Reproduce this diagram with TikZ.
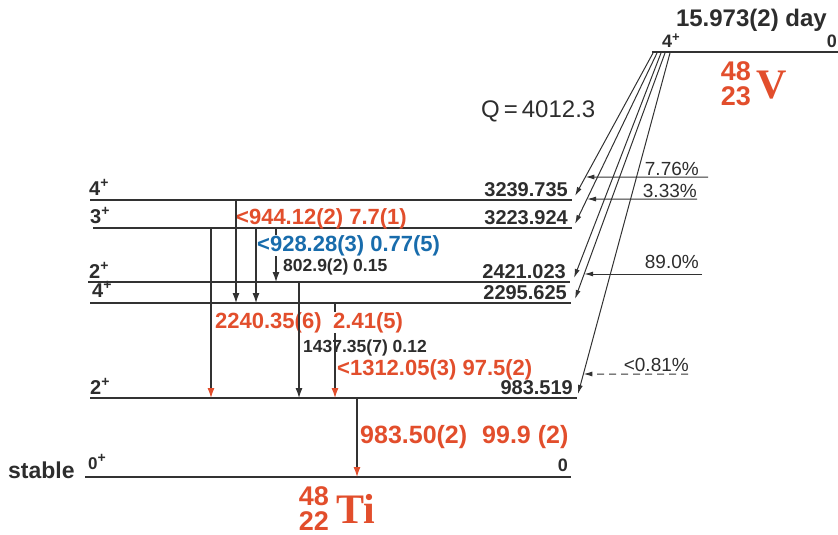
\documentclass[tikz,border=0pt]{standalone}
\usepackage{fontspec}
\setmainfont{Liberation Sans}
\newfontfamily\elemfont{Liberation Serif}
\usepackage{tikz}
\usetikzlibrary{
  arrows.meta,
  calc
}
\definecolor{nucred}{RGB}{226,78,44}
\definecolor{nucblue}{RGB}{24,108,172}
\definecolor{linegray}{RGB}{50,50,50}
\definecolor{txtgray}{RGB}{45,45,45}
\newcommand{\spinp}[1]{#1\raisebox{0.36em}{\fontsize{14}{14}\selectfont +}}

\begin{document}
\begin{tikzpicture}[
    x=1pt, y=-1pt,
    >=Latex,
    lvl/.style={line width=1.7pt, draw=linegray},
    en/.style={font=\bfseries\fontsize{20}{22}\selectfont, text=txtgray,
      anchor=base east, inner sep=0pt},
    spin/.style={font=\bfseries\fontsize{20}{22}\selectfont, text=txtgray,
      anchor=base west, inner sep=0pt},
    gam/.style={line width=1.1pt, draw=linegray,
      -{Latex[length=10pt,width=7pt]}},
    gamred/.style={gam, -{Latex[length=10pt,width=7pt,color=nucred]}},
    feed/.style={line width=1pt, draw=linegray,
      -{Latex[length=9pt,width=5pt]}},
    pct/.style={font=\fontsize{19}{21}\selectfont, text=txtgray,
      anchor=base east, inner sep=0pt},
    glbl/.style={font=\bfseries\fontsize{22}{24}\selectfont, text=nucred,
      anchor=base west, inner sep=0pt},
    gsmall/.style={font=\bfseries\fontsize{17.5}{20}\selectfont, text=txtgray,
      anchor=base west, inner sep=0pt},
    nuc/.style={font=\bfseries\fontsize{27}{29}\selectfont, text=nucred,
      anchor=base east, inner sep=0pt},
    elem/.style={font=\elemfont\bfseries\fontsize{42}{44}\selectfont,
      text=nucred, anchor=base west, inner sep=0pt}
    ]
    \useasboundingbox (0,0) rectangle (838,535);

    % parent level
    \draw[line width=2.6pt, draw=linegray]
    (652,52) coordinate (Pl) -- (838,52) coordinate (Pr);
    \node[font=\bfseries\fontsize{24}{26}\selectfont, text=txtgray,
      anchor=base east, inner sep=0pt] (thalf) at (827,27) {15.973(2) day};
    \node[spin, font=\bfseries\fontsize{18}{20}\selectfont] (Pspin)
    at (662,48) {4\raisebox{0.36em}{\fontsize{13}{13}\selectfont +}};
    \node[en, font=\bfseries\fontsize{18}{20}\selectfont] (Pen)
    at (837,48) {0};
    \node[nuc] (Vmass) at (751,81) {48};
    \node[nuc] (Vz) at (751,106) {23};
    \node[elem] (Vsym) at (756,98) {V};
    \node[font=\fontsize{24}{26}\selectfont, text=txtgray,
      anchor=base west, inner sep=0pt] (Qval) at (481,117) {Q\,=\,4012.3};

    % levels of the daughter
    \foreach \n/\xl/\xr/\y/\e in {
      3239/90/572/200/3239.735,
      3223/93/572/228/3223.924,
      2421/88/570/282/2421.023,
      2295/90/571/303/2295.625,
      983/90/577/398/983.519}
    {
      \draw[lvl] (\xl,\y) coordinate (L\n l) -- (\xr,\y) coordinate (L\n r);
      \node[en] (E\n) at ($(L\n r)+(-4,-4)$) {\e};
    }
    \draw[line width=2.4pt, draw=linegray]
    (85,477) coordinate (L0l) -- (571,477) coordinate (L0r);
    \node[en, font=\bfseries\fontsize{18}{20}\selectfont] (E0)
    at (568,471) {0};

    \node[spin] (S3239) at (89,195) {\spinp{4}};
    \node[spin] (S3223) at (90,223) {\spinp{3}};
    \node[spin] (S2421) at (89,278) {\spinp{2}};
    \node[spin] (S2295) at (92,297) {\spinp{4}};
    \node[spin] (S983) at (90,394) {\spinp{2}};
    \node[spin, font=\bfseries\fontsize{17}{19}\selectfont] (S0) at (88,469)
    {\spinp{0}};
    \node[font=\bfseries\fontsize{23}{25}\selectfont, text=txtgray,
      anchor=base west, inner sep=0pt] (stab) at (8,478) {stable};

    % feeding from 48V
    \coordinate (p1) at (653,53);
    \coordinate (p2) at (657,53);
    \coordinate (p3) at (661,53);
    \coordinate (p4) at (665,53);
    \coordinate (p5) at (670,53);
    \coordinate (d1) at ($(L3239r)+(3,-4)$);
    \coordinate (d2) at ($(L3223r)+(3,-4)$);
    \coordinate (d3) at ($(L2421r)+(4,-4)$);
    \coordinate (d4) at ($(L2295r)+(4,-4)$);
    \coordinate (d5) at ($(L983r)+(1,-4)$);
    \draw[feed] (p1) -- (d1);
    \draw[feed] (p2) -- (d2);
    \draw[feed] (p3) -- (d3);
    \draw[feed] (p4) -- (d4);
    \draw[feed] (p5) -- (d5);

    % branchings
    \coordinate (b1) at (708,177);
    \coordinate (b1w) at (500,177);
    \coordinate (b2) at (697,199);
    \coordinate (b2w) at (500,199);
    \coordinate (b3) at (702,274);
    \coordinate (b3w) at (500,274);
    \coordinate (b4) at (688,374);
    \coordinate (b4w) at (500,374);
    \draw[feed] (b1) -- (intersection of b1--b1w and p1--d1);
    \draw[feed] (b2) -- (intersection of b2--b2w and p2--d2);
    \draw[feed] (b3) -- (intersection of b3--b3w and p4--d4);
    \draw[feed, dash pattern=on 7pt off 5pt]
    (b4) -- (intersection of b4--b4w and p5--d5);
    \node[pct] (pc1) at (699,175) {7.76\%};
    \node[pct] (pc2) at (697,197) {3.33\%};
    \node[pct] (pc3) at (699,268) {89.0\%};
    \node[pct] (pc4) at (689,371) {<0.81\%};

    % gamma lines
    \coordinate (g2240) at (211,0);
    \coordinate (g944) at (236,0);
    \coordinate (g928) at (256,0);
    \coordinate (g803) at (276,0);
    \coordinate (g1437) at (299,0);
    \coordinate (g1312) at (335,0);
    \coordinate (g984) at (357,0);

    \node[glbl] (t944) at (236,224) {<944.12(2) 7.7(1)};
    \node[glbl, text=nucblue] (t928) at (257,251) {<928.28(3) 0.77(5)};
    \node[gsmall] (t803) at (283,271) {802.9(2) 0.15};
    \node[glbl] (t2240) at (215,328) {2240.35(6)};
    \node[glbl] (t241) at (333,328) {2.41(5)};
    \node[gsmall] (t1437) at (303,352) {1437.35(7) 0.12};
    \node[glbl] (t1312) at (337,375) {<1312.05(3) 97.5(2)};
    \node[glbl, font=\bfseries\fontsize{25}{27}\selectfont] (t984)
    at (360,443) {983.50(2)\hspace{15pt}99.9 (2)};

    \draw[gamred] (g2240 |- L3223l) -- (g2240 |- L983l);
    \draw[gam] (g944 |- L3239l) -- (g944 |- L2295l);
    \draw[gam] (g928 |- L3223l) -- (g928 |- L2295l);
    \draw[line width=1.1pt, draw=linegray]
    (g803 |- L3223l) -- (g803 |- t928.north);
    \draw[gam] (g803 |- t928.south) -- (g803 |- L2421l);
    \draw[gam] (g1437 |- L2421l) -- (g1437 |- L983l);
    \draw[line width=1.1pt, draw=linegray]
    (g1312 |- L2295l) -- (g1312 |- t241.north);
    \draw[gamred] (g1312 |- t241.south) -- (g1312 |- L983l);
    \draw[gamred] (g984 |- L983l) -- (g984 |- L0l);

    % daughter
    \node[nuc] (Timass) at (329,505) {48};
    \node[nuc] (Tiz) at (329,530) {22};
    \node[elem] (Tisym) at (336,523) {Ti};

    \end{tikzpicture}
\end{document}
